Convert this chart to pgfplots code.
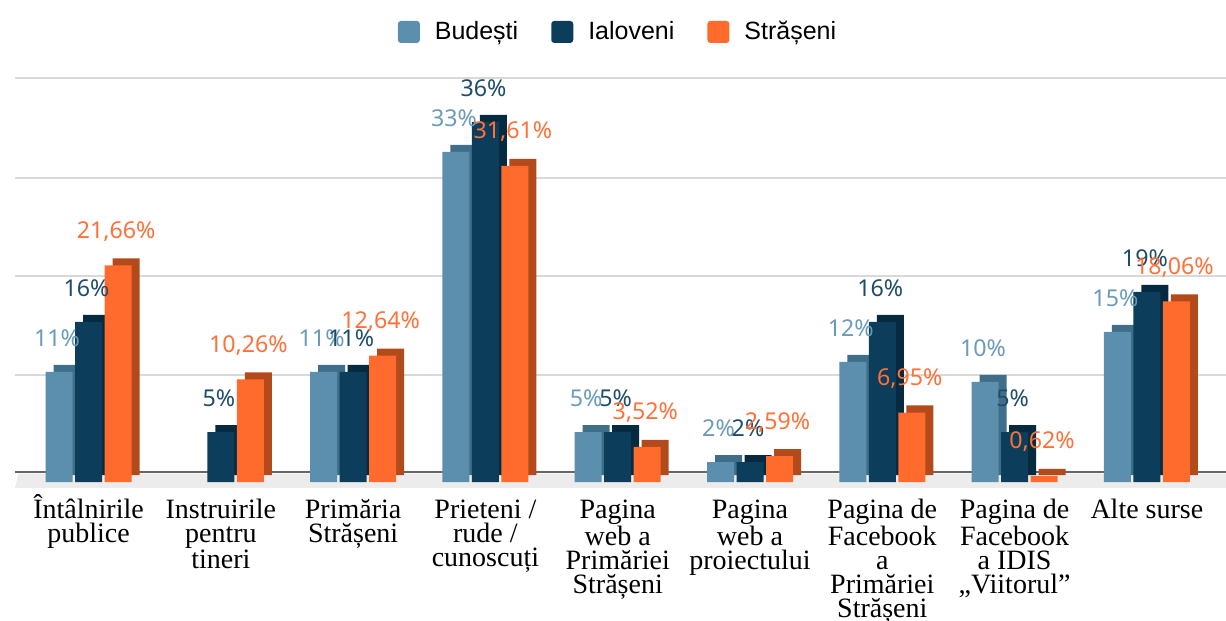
\documentclass[border=0pt]{standalone}
\usepackage{fontspec}
\usepackage{pgfplots}
\pgfplotsset{compat=1.18}
\setmainfont{Liberation Serif}
\newfontfamily\tickfont{Liberation Serif}
\newfontfamily\legfont{Liberation Sans}
\newfontfamily\labfont{Noto Sans}
\definecolor{bud}{HTML}{5B8FAD}
\definecolor{budside}{HTML}{3F6E8A}
\definecolor{ial}{HTML}{0C3D5A}
\definecolor{ialside}{HTML}{062A40}
\definecolor{str}{HTML}{FF6B2C}
\definecolor{strside}{HTML}{B24A1C}
\definecolor{budlab}{HTML}{6A9BB8}
\definecolor{iallab}{HTML}{1F4D69}
\definecolor{strlab}{HTML}{FF7139}
\definecolor{gridc}{HTML}{D9D9D9}
\definecolor{basec}{HTML}{666666}
\definecolor{floorc}{HTML}{ECECEC}
\newcommand{\T}{\rule{0pt}{12.5pt}}
\begin{document}
\begin{tikzpicture}
\begin{axis}[
  at={(0,0)}, anchor=south west,
  scale only axis, width=605.5pt, height=223pt,
  xmin=-0.556, xmax=8.598, ymin=-0.6, ymax=44,
  clip=false,
  axis line style={draw=none},
  tick style={draw=none},
  ytick={10.7,20.6,30.4,40.4}, yticklabels={},
  ymajorgrids, grid style={gridc, line width=1.1pt},
  extra y ticks={1}, extra y tick labels={},
  extra y tick style={grid style={basec, line width=1.2pt}},
  xtick={0,...,8},
  xticklabels={
    {\T Întâlnirile\\publice},
    {\T Instruirile\\pentru\\tineri},
    {\T Primăria\\Strășeni},
    {\T Prieteni /\\rude /\\cunoscuți},
    {\T Pagina\\web a\\Primăriei\\Strășeni},
    {\T Pagina\\web a\\proiectului},
    {\T Pagina de\\Facebook\\a\\Primăriei\\Strășeni},
    {\T Pagina de\\Facebook\\a IDIS\\„Viitorul”},
    {\T Alte surse}},
  xticklabel style={font=\tickfont\fontsize{14pt}{12pt}\selectfont, align=center, anchor=north, inner sep=0pt, yshift=-2.5pt},
  legend columns=3,
  legend style={at={(0.5,1.0225)}, anchor=center, draw=none, fill=none,
    font=\legfont\fontsize{12.5pt}{14pt}\selectfont,
    /tikz/every odd column/.append style={column sep=4pt},
    /tikz/every even column/.append style={column sep=13pt},
    nodes={inner sep=3.5pt}},
  legend image code/.code={\fill[#1, rounded corners=1.5pt] (0pt,-5.5pt) rectangle (11pt,5.5pt);},
  point meta=explicit symbolic,
]
\fill[floorc] (axis cs:-0.556,-0.6) -- (axis cs:8.598,-0.6) -- (axis cs:8.598,0.85) -- (axis cs:-0.53,0.85) -- cycle;
% Budesti
\addplot[ybar, bar width=13.5pt, bar shift=-14.75pt, fill=budside, draw=none, xshift=4pt, yshift=3.5pt, forget plot]
  coordinates {(0,11) (2,11) (3,33) (4,5) (5,2) (6,12) (7,10) (8,15)};
\addplot[ybar, bar width=13.5pt, bar shift=-14.75pt, fill=bud, draw=none,
  nodes near coords, every node near coord/.append style={font=\labfont\fontsize{11.6pt}{13pt}\selectfont, text=budlab, anchor=center, yshift=17pt, xshift=-15.75pt}]
  coordinates {(0,11) [11\%] (2,11) [11\%] (3,33) [33\%] (4,5) [5\%] (5,2) [2\%] (6,12) [12\%] (7,10) [10\%] (8,15) [15\%]};
\addlegendentry{Budești}
% Ialoveni
\addplot[ybar, bar width=13.5pt, bar shift=0pt, fill=ialside, draw=none, xshift=4pt, yshift=3.5pt, forget plot]
  coordinates {(0,16) (1,5) (2,11) (3,36) (4,5) (5,2) (6,16) (7,5) (8,19)};
\addplot[ybar, bar width=13.5pt, bar shift=0pt, fill=ial, draw=none,
  nodes near coords, every node near coord/.append style={font=\labfont\fontsize{11.6pt}{13pt}\selectfont, text=iallab, anchor=center, yshift=17pt, xshift=-1pt}]
  coordinates {(0,16) [16\%] (1,5) [5\%] (2,11) [11\%] (3,36) [36\%] (4,5) [5\%] (5,2) [2\%] (6,16) [16\%] (7,5) [5\%] (8,19) [19\%]};
\addlegendentry{Ialoveni}
% Straseni
\addplot[ybar, bar width=13.5pt, bar shift=14.75pt, fill=strside, draw=none, xshift=4pt, yshift=3.5pt, forget plot]
  coordinates {(0,21.66) (1,10.26) (2,12.64) (3,31.61) (4,3.52) (5,2.59) (6,6.95) (7,0.62) (8,18.06)};
\addplot[ybar, bar width=13.5pt, bar shift=14.75pt, fill=str, draw=none,
  nodes near coords, every node near coord/.append style={font=\labfont\fontsize{11.6pt}{13pt}\selectfont, text=strlab, anchor=center, yshift=17pt, xshift=13.75pt}]
  coordinates {(0,21.66) [{21,66\%}] (1,10.26) [{10,26\%}] (2,12.64) [{12,64\%}] (3,31.61) [{31,61\%}] (4,3.52) [{3,52\%}] (5,2.59) [{2,59\%}] (6,6.95) [{6,95\%}] (7,0.62) [{0,62\%}] (8,18.06) [{18,06\%}]};
\addlegendentry{Strășeni}
\end{axis}
\pgfresetboundingbox
\path (-7.5pt,-66.5pt) rectangle (605.5pt,244pt);
\end{tikzpicture}
\end{document}
